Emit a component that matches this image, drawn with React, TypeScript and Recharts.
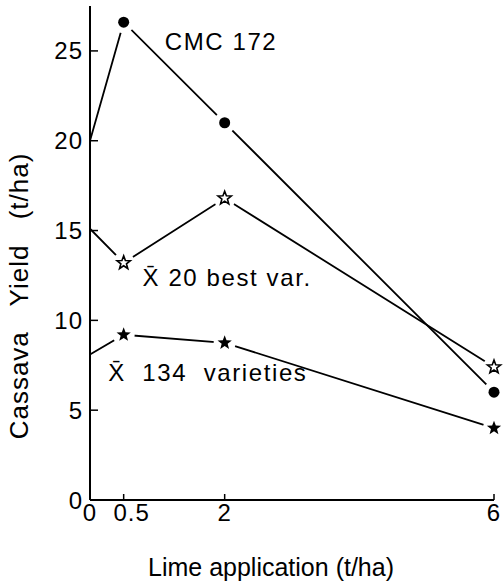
import { ComposedChart, Line, XAxis, YAxis, ReferenceDot, Label } from 'recharts';

const limeRates = [0, 0.5, 2, 6];
const cmc172 = [20.0, 26.6, 21.0, 6.0];
const best20 = [15.1, 13.2, 16.8, 7.4];
const varieties134 = [8.1, 9.2, 8.75, 4.0];

const xTicks = [0, 0.5, 2, 6];
const yTicks = [0, 5, 10, 15, 20, 25];

const seriesNames = ['CMC 172', 'X\u0304 20 best var.', 'X\u0304  134  varieties'];
const nameAnchorX = [1.11, 0.78, 0.27];
const nameAnchorY = [25.5, 12.4, 7.1];

const FONT = '"Liberation Sans", Arial, Helvetica, sans-serif';

const data = limeRates.map((x, i) => ({
  x,
  cmc: cmc172[i],
  best: best20[i],
  all: varieties134[i],
}));

type Kind = 'circle' | 'openStar' | 'star';
const seriesKeys = ['cmc', 'best', 'all'];
const seriesValues = [cmc172, best20, varieties134];
const markerKinds: Kind[] = ['circle', 'openStar', 'star'];

function starPath(cx: number, cy: number, R: number) {
  const pts: string[] = [];
  for (let i = 0; i < 10; i++) {
    const a = ((-90 + i * 36) * Math.PI) / 180;
    const r = i % 2 ? R * 0.42 : R;
    pts.push(`${(cx + r * Math.cos(a)).toFixed(2)},${(cy + r * Math.sin(a)).toFixed(2)}`);
  }
  return `M${pts.join('L')}Z`;
}

// markers sit on a white disc so the lines stop short of them, like the original
function makeMarker(kind: Kind) {
  return (props: any) => {
    const { cx, cy } = props;
    if (cx == null || cy == null) return <g />;
    return (
      <g>
        <circle cx={cx} cy={cy} r={11} fill="#fff" />
        {kind === 'circle' && <circle cx={cx} cy={cy} r={5.5} fill="#000" />}
        {kind === 'openStar' && <path d={starPath(cx, cy, 7)} fill="#fff" stroke="#000" strokeWidth={1.6} />}
        {kind === 'star' && <path d={starPath(cx, cy, 7.5)} fill="#000" />}
      </g>
    );
  };
}

const XTick = (props: any) => {
  const { x, y, payload } = props;
  const shift = payload.value === 0.5 ? 8 : 0;
  return (
    <text x={x + shift} y={y} dy="0.71em" textAnchor="middle" fontSize={24} fontFamily={FONT} fill="#000" letterSpacing={1}>
      {payload.value}
    </text>
  );
};

export default function App() {
  return (
    <div style={{ position: 'absolute', left: 0, top: 0, background: '#fff' }}>
      <ComposedChart width={504} height={588} data={data} margin={{ top: 6, right: 10, bottom: 0, left: 0 }}>
        <XAxis
          type="number"
          dataKey="x"
          domain={[0, 6]}
          ticks={xTicks}
          interval={0}
          height={88}
          axisLine={{ stroke: '#000', strokeWidth: 2 }}
          tickLine={{ stroke: '#000', strokeWidth: 1.5 }}
          tickSize={-6}
          tickMargin={10}
          tick={XTick}
        >
          <Label
            content={() => (
              <text x={271} y={576} textAnchor="middle" fontSize={25} fontFamily={FONT} fill="#000">
                Lime application (t/ha)
              </text>
            )}
          />
        </XAxis>
        <YAxis
          type="number"
          domain={[0, 27.5]}
          ticks={yTicks}
          interval={0}
          width={90}
          axisLine={{ stroke: '#000', strokeWidth: 2 }}
          tickLine={{ stroke: '#000', strokeWidth: 1.5 }}
          tickSize={-8}
          tickMargin={15}
          tick={{ fill: '#000', fontSize: 24, fontFamily: FONT, letterSpacing: 1 }}
        >
          <Label
            content={() => (
              <text
                x={28}
                y={296}
                transform="rotate(-90 28 296)"
                textAnchor="middle"
                fontSize={26}
                fontFamily={FONT}
                fill="#000"
                letterSpacing={1}
                style={{ whiteSpace: 'pre', wordSpacing: 17 }}
              >
                Cassava Yield (t/ha)
              </text>
            )}
          />
        </YAxis>
        {seriesKeys.map((k) => (
          <Line
            key={k}
            type="linear"
            dataKey={k}
            stroke="#000"
            strokeWidth={1.8}
            dot={false}
            activeDot={false}
            isAnimationActive={false}
            zIndex={100}
          />
        ))}
        {seriesValues.map((vals, s) =>
          vals.map((v, i) =>
            limeRates[i] === 0 ? null : (
              <ReferenceDot
                key={`${seriesKeys[s]}-${i}`}
                x={limeRates[i]}
                y={v}
                r={11}
                shape={makeMarker(markerKinds[s])}
                zIndex={1000}
              />
            ),
          ),
        )}
        {seriesNames.map((name, i) => (
          <ReferenceDot
            key={name}
            x={nameAnchorX[i]}
            y={nameAnchorY[i]}
            r={0}
            fill="none"
            stroke="none"
            label={{
              content: (p: any) => (
                <text
                  x={p.viewBox?.x}
                  y={p.viewBox?.y}
                  dominantBaseline="central"
                  fontSize={24}
                  fontFamily={FONT}
                  fill="#000"
                  letterSpacing={1.6}
                  style={{ whiteSpace: 'pre' }}
                >
                  {name}
                </text>
              ),
            }}
          />
        ))}
      </ComposedChart>
    </div>
  );
}
